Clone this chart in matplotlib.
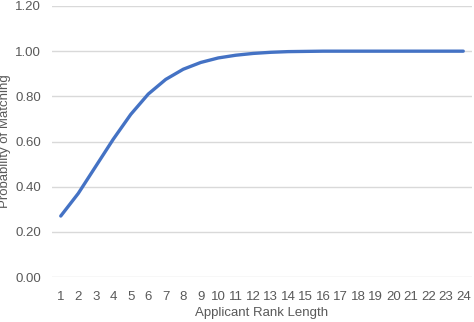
import matplotlib
matplotlib.use("Agg")
import matplotlib.pyplot as plt

# tamanho da lista do candidato e probabilidade de match
rank_length = list(range(1, 25))
prob_match = [0.27, 0.37, 0.49, 0.61, 0.72, 0.81, 0.875, 0.92, 0.95, 0.97,
              0.982, 0.99, 0.995, 0.998, 0.999, 1.0, 1.0, 1.0, 1.0, 1.0,
              1.0, 1.0, 1.0, 1.0]
y_ticks = [0.0, 0.2, 0.4, 0.6, 0.8, 1.0, 1.2]

plt.rcParams['font.family'] = ['Liberation Sans', 'DejaVu Sans']
texto = '#595959'

fig = plt.figure(figsize=(4.74, 3.22), dpi=100)
ax = fig.add_axes([52 / 474, 45 / 322, 420 / 474, 271 / 322])

ax.plot(rank_length, prob_match, color='#4472c4', linewidth=2.4,
        solid_capstyle='round', zorder=3)

ax.set_xlim(0.5, 24.5)
ax.set_ylim(0, 1.2)
ax.set_xticks(rank_length)
ax.set_xticklabels([str(n) for n in rank_length])
ax.set_yticks(y_ticks)
ax.set_yticklabels([f"{v:.2f}" for v in y_ticks])

ax.grid(axis='y', color='#d9d9d9', linewidth=1.0)
ax.set_axisbelow(True)
for lado in ['top', 'right', 'left', 'bottom']:
    ax.spines[lado].set_visible(False)
ax.tick_params(axis='both', length=0, colors=texto, labelsize=9.5)
ax.tick_params(axis='x', pad=10)
ax.tick_params(axis='y', pad=8)

ax.set_xlabel("Applicant Rank Length", color=texto, fontsize=9.5, labelpad=3)
ax.set_ylabel("Probability of Matching", color=texto, fontsize=9.5, labelpad=3)

fig.savefig("out.png", dpi=100)
